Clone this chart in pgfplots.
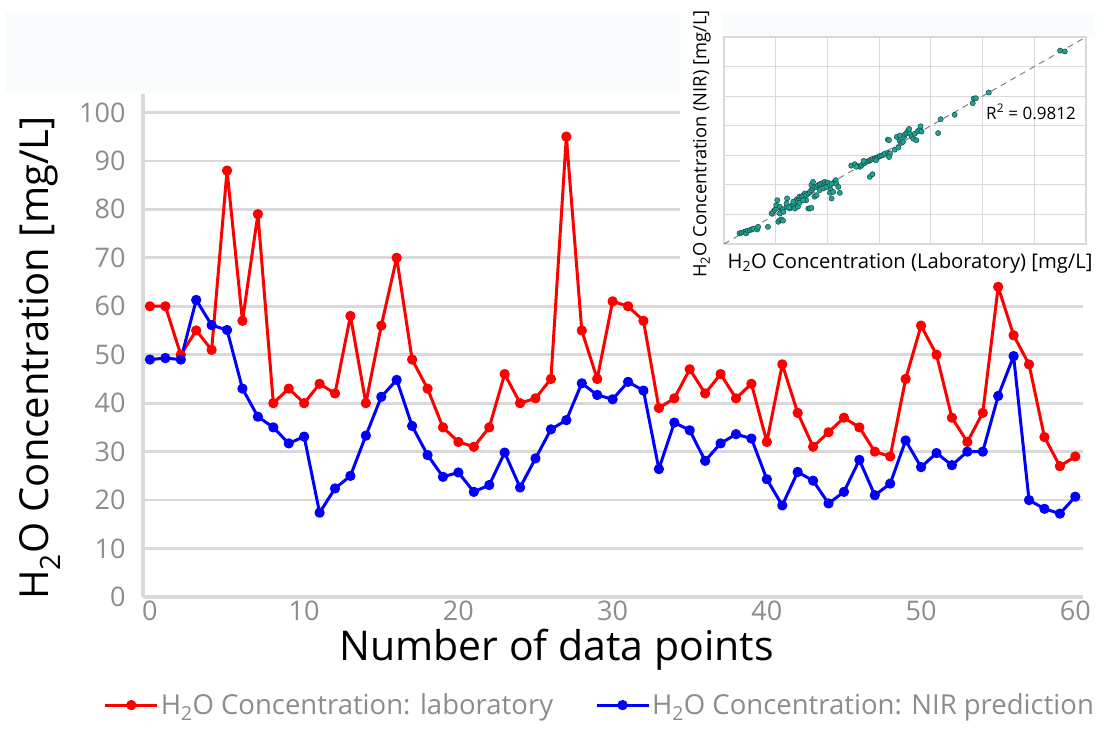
\documentclass[border=0pt]{standalone}
\usepackage{fontspec}
\setmainfont{Open Sans}
\usepackage{pgfplots}
\usepackage{pgfplotstable}
\pgfplotsset{compat=1.18}

\definecolor{gridgray}{HTML}{D9D9D9}
\definecolor{tickgray}{HTML}{8C8C8C}
\definecolor{labred}{HTML}{FF0000}
\definecolor{nirblue}{HTML}{0000FF}
\definecolor{dotfill}{HTML}{1FA595}
\definecolor{dotedge}{HTML}{174A44}
\definecolor{band}{HTML}{F9FCFD}

% main series: sample number, laboratory value, NIR prediction (mg/L)
\pgfplotstableread{
x lab nir
0 60 49
1 60 49.3
2 50 49
3 55 61.3
4 51 56.1
5 88 55.1
6 57 43
7 79 37.2
8 40 35
9 43 31.7
10 40 33.1
11 44 17.4
12 42 22.4
13 58 25
14 40 33.3
15 56 41.3
16 70 44.8
17 49 35.3
18 43 29.3
19 35 24.8
20 32 25.7
21 31 21.7
22 35 23.1
23 46 29.8
24 40 22.6
25 41 28.6
26 45 34.6
27 95 36.5
28 55 44.1
29 45 41.7
30 61 40.8
31 60 44.4
32 57 42.6
33 39 26.4
34 41 36
35 47 34.4
36 42 28.1
37 46 31.7
38 41 33.6
39 44 32.7
40 32 24.3
41 48 18.9
42 38 25.8
43 31 24
44 34 19.3
45 37 21.7
46 35 28.3
47 30 21
48 29 23.4
49 45 32.3
50 56 26.8
51 50 29.7
52 37 27.2
53 32 30
54 38 30
55 64 41.5
56 54 49.7
57 48 20
58 33 18.2
59 27 17.2
60 29 20.7
}\series

% inset: laboratory vs NIR, in grid units of the inset
\pgfplotstableread{
lab nir
0.30 0.36
0.34 0.38
0.38 0.40
0.42 0.43
0.43 0.36
0.46 0.45
0.50 0.47
0.54 0.49
0.57 0.52
0.64 0.49
0.66 0.58
0.85 0.58
0.92 1.03
0.95 1.09
0.98 1.15
1.01 1.20
1.03 1.48
1.01 1.31
1.08 1.26
1.11 1.12
1.14 1.17
1.05 0.75
1.08 0.81
1.11 0.83
1.14 0.79
1.22 1.54
1.21 1.26
1.27 1.20
1.30 1.28
1.34 1.35
1.37 1.39
1.40 1.48
1.41 1.51
1.43 1.43
1.45 1.54
1.46 1.60
1.50 1.60
1.53 1.65
1.56 1.71
1.59 1.65
1.63 1.71
1.66 1.76
1.69 1.82
1.72 1.88
1.69 1.99
1.72 2.10
1.75 1.93
1.79 1.93
1.82 1.99
1.85 2.02
1.88 2.04
1.92 2.07
1.95 2.10
1.98 2.04
2.01 2.07
2.05 1.88
2.08 1.54
2.05 1.73
2.11 1.76
2.14 2.10
2.16 2.16
2.17 2.04
2.21 1.93
2.24 1.73
1.63 1.20
1.66 1.20
1.69 1.22
1.37 1.20
1.43 1.26
1.59 1.48
1.75 1.60
1.79 1.65
1.85 1.82
1.92 1.88
1.98 1.93
2.05 1.99
2.08 2.04
1.34 1.43
1.21 1.37
1.46 1.39
1.53 1.48
1.08 1.03
1.15 1.09
1.26 1.24
2.46 2.65
2.53 2.70
2.59 2.63
2.63 2.61
2.66 2.66
2.69 2.72
2.72 2.74
2.75 2.78
2.79 2.80
2.82 2.83
2.85 2.85
2.88 2.88
2.92 2.90
2.95 2.92
2.98 2.94
3.01 2.97
3.05 2.99
3.08 3.01
3.11 3.06
3.17 3.08
3.21 3.06
3.19 2.94
2.56 2.61
2.82 2.27
2.87 2.36
2.70 2.81
2.94 2.83
3.17 3.53
3.19 3.51
3.30 3.19
3.37 3.26
3.40 3.48
3.43 3.42
3.46 3.45
3.48 3.62
3.50 3.71
3.53 3.75
3.56 3.84
3.58 3.89
3.59 3.73
3.63 3.64
3.66 3.56
3.69 3.73
3.72 3.51
3.75 3.82
3.79 3.87
3.80 3.98
3.82 3.80
3.34 3.62
3.40 3.67
4.14 3.75
4.19 4.22
4.46 4.37
4.81 4.76
4.83 4.92
4.87 4.93
5.12 5.12
6.50 6.54
6.59 6.51
}\scatterdata

\begin{document}
\begin{tikzpicture}
\path[use as bounding box] (0bp,0bp) rectangle (1112bp,742bp);
\fill[band] (5bp,649bp) rectangle (1095bp,729bp);

\begin{axis}[
  at={(143bp,145bp)}, anchor=south west,
  width=940bp, height=503bp, scale only axis,
  xmin=-0.45, xmax=60.5, ymin=0, ymax=103.8,
  xtick={0,10,...,60}, ytick={0,10,...,100},
  axis x line*=bottom, axis y line*=left,
  axis line style={draw=gridgray, line width=3bp},
  major tick length=0pt,
  ymajorgrids, grid style={draw=gridgray, line width=2.7bp},
  /pgf/number format/assume math mode=true,
  tick label style={font=\fontsize{27bp}{32bp}\selectfont, text=tickgray},
  yticklabel style={xshift=-14bp},
  xlabel={Number of data points},
  xlabel style={font=\fontsize{41bp}{48bp}\selectfont, at={(axis description cs:0.44,-0.105)}, anchor=center},
  ylabel={H\textsubscript{2}O Concentration [mg/L]},
  ylabel style={font=\fontsize{40bp}{48bp}\selectfont, at={(axis description cs:-0.1096,0.475)}, anchor=center},
  legend columns=2,
  legend style={at={(axis description cs:0.486,-0.215)}, anchor=center, draw=none, fill=none,
    font=\fontsize{27.5bp}{33bp}\selectfont, text=tickgray,
    /tikz/every even column/.append style={column sep=40bp}},
  legend image code/.code={\draw[mark repeat=2,mark phase=2,#1] plot coordinates {(0bp,0bp) (26bp,0bp) (52bp,0bp)};},
]
\addplot[labred, line width=3bp, line join=round, mark=*, mark size=3.6bp, mark options={solid}] table[x=x, y=lab] {\series};
\addlegendentry{H\textsubscript{2}O Concentration: laboratory}
\addplot[nirblue, line width=3bp, line join=round, mark=*, mark size=3.6bp, mark options={solid}] table[x=x, y=nir] {\series};
\addlegendentry{H\textsubscript{2}O Concentration: NIR prediction}
\end{axis}

% inset background
\fill[white] (680bp,462bp) rectangle (722bp,742bp);
\fill[white] (722bp,462bp) rectangle (1100bp,705bp);

\begin{axis}[
  at={(724bp,498bp)}, anchor=south west,
  width=362bp, height=207bp, scale only axis,
  xmin=0, xmax=7, ymin=0, ymax=7,
  xtick={0,...,7}, ytick={0,...,7}, xticklabels={}, yticklabels={},
  major tick length=0pt,
  grid=major, grid style={draw=gridgray, line width=1.2bp},
  axis line style={draw=gridgray, line width=1.2bp},
  xlabel={H\textsubscript{2}O Concentration (Laboratory) [mg/L]},
  xlabel style={font=\fontsize{20.2bp}{24bp}\selectfont, at={(axis description cs:0.514,-0.092)}, anchor=center},
  ylabel={H\textsubscript{2}O Concentration (NIR) [mg/L]},
  ylabel style={font=\fontsize{18.3bp}{22bp}\selectfont, at={(axis description cs:-0.061,0.483)}, anchor=center},
]
\addplot[draw=gray, line width=1bp, dash pattern=on 6bp off 5bp] coordinates {(0,0) (7,7)};
\addplot[only marks, mark=*, mark size=2.6bp, mark options={fill=dotfill, draw=dotedge, line width=0.5bp}] table[x=lab, y=nir] {\scatterdata};
\node[font=\fontsize{17bp}{20bp}\selectfont] at (axis description cs:0.848,0.638) {R\textsuperscript{2} = 0.9812};
\end{axis}
\end{tikzpicture}
\end{document}
